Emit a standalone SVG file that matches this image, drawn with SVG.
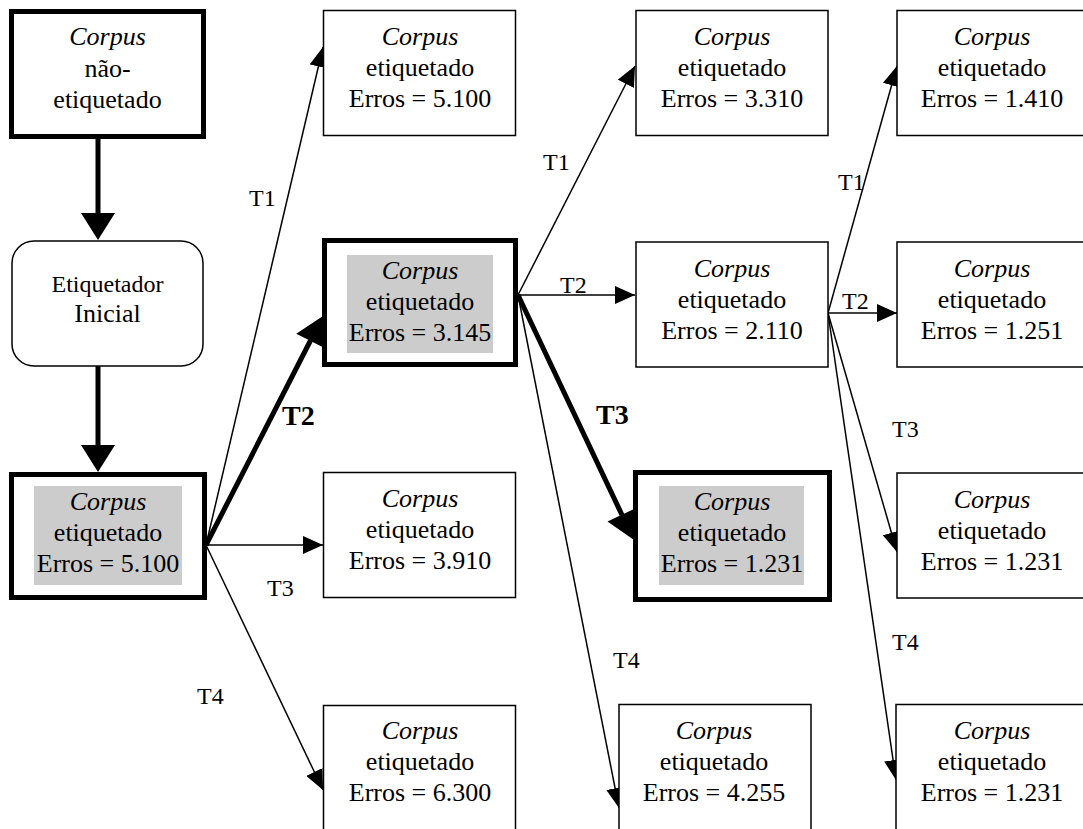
<svg xmlns="http://www.w3.org/2000/svg" width="1083" height="829" viewBox="0 0 1083 829" font-family="'Liberation Serif', 'DejaVu Serif', serif">
<style>
text{font-family:'Liberation Serif','DejaVu Serif',serif;fill:#000}
.t{font-size:26px;text-anchor:middle}
.i{font-style:italic}
.lbl{font-size:24px}
.blbl{font-size:28px;font-weight:bold}
.box{fill:#fff;stroke:#000;stroke-width:1.5}
.thick{fill:#fff;stroke:#000;stroke-width:5}
.hl{fill:#cccccc}
.ln{stroke:#000;stroke-width:1.5;fill:none;marker-end:url(#ah)}
.tk{stroke:#000;stroke-width:5;fill:none}
</style>
<defs>
<marker id="ah" markerUnits="userSpaceOnUse" markerWidth="20" markerHeight="18" refX="20" refY="9" orient="auto">
<path d="M0,0 L20,9 L0,18 z" fill="#000"/>
</marker>
</defs>
<rect width="1083" height="829" fill="#fff"/>

<g id="connectors">
<line class="tk" x1="98" y1="139" x2="98" y2="214"/>
<polygon points="81,213 115,213 98,240"/>
<line class="tk" x1="98" y1="366" x2="98" y2="446"/>
<polygon points="81,445 115,445 98,472"/>

<line class="ln" x1="206" y1="545" x2="323" y2="47"/>
<line class="tk" x1="206" y1="545" x2="310.5" y2="340.5"/>
<polygon points="296.3,333.7 323,316 324.5,347.9"/>
<line class="ln" x1="206" y1="545" x2="323" y2="545"/>
<line class="ln" x1="206" y1="545" x2="323" y2="790"/>

<line class="ln" x1="518" y1="295" x2="635" y2="66"/>
<line class="ln" x1="518" y1="295" x2="635" y2="295"/>
<line class="tk" x1="518" y1="295" x2="622" y2="515"/>
<polygon points="607.5,521.6 634,540 636.4,507.9"/>
<line class="ln" x1="518" y1="295" x2="619" y2="808"/>

<line class="ln" x1="828" y1="313" x2="897" y2="66"/>
<line class="ln" x1="828" y1="313" x2="897" y2="313"/>
<line class="ln" x1="828" y1="313" x2="897" y2="552"/>
<line class="ln" x1="828" y1="313" x2="896" y2="780"/>

<text class="lbl" x="249" y="206">T1</text>
<text class="blbl" x="282" y="425">T2</text>
<text class="lbl" x="267" y="596">T3</text>
<text class="lbl" x="197" y="704">T4</text>
<text class="lbl" x="543" y="170">T1</text>
<text class="lbl" x="560" y="293">T2</text>
<text class="blbl" x="596" y="424">T3</text>
<text class="lbl" x="613" y="668">T4</text>
<text class="lbl" x="838" y="190">T1</text>
<text class="lbl" x="842" y="309">T2</text>
<text class="lbl" x="892" y="437">T3</text>
<text class="lbl" x="892" y="650">T4</text>
</g>

<g id="n-start">
<rect class="thick" x="11.5" y="11.5" width="192" height="125"/>
<text class="t i" x="107.5" y="45">Corpus</text>
<text class="t" x="107.5" y="77">não-</text>
<text class="t" x="107.5" y="108">etiquetado</text>
</g>

<g id="n-etiq">
<rect class="box" x="12" y="241" width="191" height="125" rx="22" ry="22"/>
<text class="t" x="107.5" y="292" style="font-size:24px">Etiquetador</text>
<text class="t" x="107.5" y="322">Inicial</text>
</g>

<g id="n-5100a">
<rect class="thick" x="11.5" y="474.5" width="193" height="123"/>
<rect class="hl" x="34" y="486" width="148" height="99"/>
<text class="t i" x="108" y="510">Corpus</text>
<text class="t" x="108" y="541">etiquetado</text>
<text class="t" x="108" y="572">Erros = 5.100</text>
</g>

<g id="n-5100b">
<rect class="box" x="323.5" y="10.5" width="192" height="125"/>
<text class="t i" x="420" y="45">Corpus</text>
<text class="t" x="420" y="76">etiquetado</text>
<text class="t" x="420" y="107">Erros = 5.100</text>
</g>

<g id="n-3145">
<rect class="thick" x="324.5" y="240.5" width="191" height="124"/>
<rect class="hl" x="347" y="255" width="146" height="98"/>
<text class="t i" x="420" y="279">Corpus</text>
<text class="t" x="420" y="310">etiquetado</text>
<text class="t" x="420" y="341">Erros = 3.145</text>
</g>

<g id="n-3910">
<rect class="box" x="323.5" y="472.5" width="192" height="125"/>
<text class="t i" x="420" y="507">Corpus</text>
<text class="t" x="420" y="538">etiquetado</text>
<text class="t" x="420" y="569">Erros = 3.910</text>
</g>

<g id="n-6300">
<rect class="box" x="323.5" y="705.5" width="192" height="130"/>
<text class="t i" x="420" y="739">Corpus</text>
<text class="t" x="420" y="770">etiquetado</text>
<text class="t" x="420" y="801">Erros = 6.300</text>
</g>

<g id="n-3310">
<rect class="box" x="636" y="10.5" width="192" height="125"/>
<text class="t i" x="732" y="45">Corpus</text>
<text class="t" x="732" y="76">etiquetado</text>
<text class="t" x="732" y="107">Erros = 3.310</text>
</g>

<g id="n-2110">
<rect class="box" x="636" y="242" width="192" height="125"/>
<text class="t i" x="732" y="277">Corpus</text>
<text class="t" x="732" y="308">etiquetado</text>
<text class="t" x="732" y="339">Erros = 2.110</text>
</g>

<g id="n-1231a">
<rect class="thick" x="635.5" y="472.5" width="194" height="127"/>
<rect class="hl" x="659" y="486" width="145" height="99"/>
<text class="t i" x="732" y="510">Corpus</text>
<text class="t" x="732" y="541">etiquetado</text>
<text class="t" x="732" y="572">Erros = 1.231</text>
</g>

<g id="n-4255">
<rect class="box" x="619" y="704.5" width="192" height="130"/>
<text class="t i" x="714" y="739">Corpus</text>
<text class="t" x="714" y="770">etiquetado</text>
<text class="t" x="714" y="801">Erros = 4.255</text>
</g>

<g id="n-1410">
<rect class="box" x="897" y="10.5" width="192" height="125"/>
<text class="t i" x="992" y="45">Corpus</text>
<text class="t" x="992" y="76">etiquetado</text>
<text class="t" x="992" y="107">Erros = 1.410</text>
</g>

<g id="n-1251">
<rect class="box" x="897" y="242" width="192" height="125"/>
<text class="t i" x="992" y="277">Corpus</text>
<text class="t" x="992" y="308">etiquetado</text>
<text class="t" x="992" y="339">Erros = 1.251</text>
</g>

<g id="n-1231b">
<rect class="box" x="897" y="473" width="192" height="125"/>
<text class="t i" x="992" y="508">Corpus</text>
<text class="t" x="992" y="539">etiquetado</text>
<text class="t" x="992" y="570">Erros = 1.231</text>
</g>

<g id="n-1231c">
<rect class="box" x="896" y="704.5" width="192" height="130"/>
<text class="t i" x="992" y="739">Corpus</text>
<text class="t" x="992" y="770">etiquetado</text>
<text class="t" x="992" y="801">Erros = 1.231</text>
</g>
</svg>
